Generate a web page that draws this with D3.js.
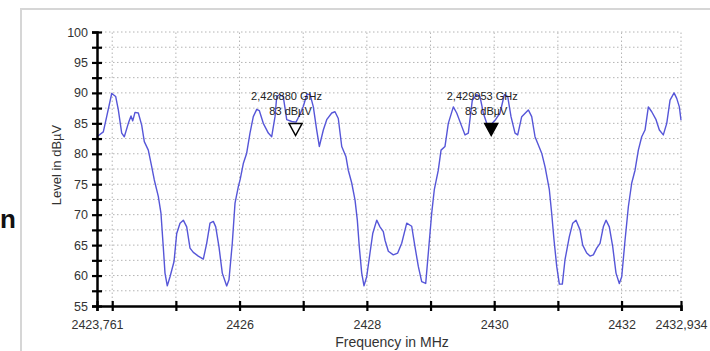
<!DOCTYPE html>
<html>
<head>
<meta charset="utf-8">
<script src="https://cdn.jsdelivr.net/npm/d3@7"></script>
<style>
  body { margin: 0; background: #fff; }
  text { font-family: "Liberation Sans", Arial, sans-serif; }
</style>
</head>
<body>
<div id="chart"></div>
<script>
// spectrum trace (MHz, dBµV)
let freq = [
  2423.761, 2423.860, 2423.913, 2423.992, 2424.055, 2424.096, 2424.149, 2424.190, 2424.253, 2424.295,
  2424.322, 2424.358, 2424.410, 2424.463, 2424.504, 2424.567, 2424.620, 2424.661, 2424.724, 2424.766,
  2424.802, 2424.829, 2424.865, 2424.908, 2424.971, 2425.013, 2425.065, 2425.117, 2425.170, 2425.222,
  2425.274, 2425.352, 2425.431, 2425.484, 2425.536, 2425.588, 2425.626, 2425.677, 2425.729, 2425.798,
  2425.834, 2425.886, 2425.929, 2425.981, 2426.010, 2426.059, 2426.112, 2426.164, 2426.216, 2426.270,
  2426.310, 2426.373, 2426.452, 2426.505, 2426.557, 2426.584, 2426.625, 2426.687, 2426.741, 2426.819,
  2426.887, 2426.950, 2427.002, 2427.055, 2427.107, 2427.159, 2427.212, 2427.253, 2427.316, 2427.369,
  2427.448, 2427.499, 2427.551, 2427.605, 2427.672, 2427.708, 2427.762, 2427.814, 2427.850, 2427.881,
  2427.919, 2427.955, 2427.997, 2428.049, 2428.092, 2428.155, 2428.206, 2428.258, 2428.285, 2428.337,
  2428.415, 2428.484, 2428.547, 2428.626, 2428.704, 2428.756, 2428.808, 2428.861, 2428.924, 2428.965,
  2429.018, 2429.059, 2429.122, 2429.165, 2429.227, 2429.279, 2429.358, 2429.411, 2429.490, 2429.542,
  2429.593, 2429.656, 2429.725, 2429.777, 2429.829, 2429.882, 2429.950, 2430.013, 2430.091, 2430.159,
  2430.212, 2430.264, 2430.327, 2430.369, 2430.432, 2430.536, 2430.589, 2430.641, 2430.746, 2430.798,
  2430.866, 2430.903, 2430.940, 2430.982, 2431.023, 2431.070, 2431.112, 2431.180, 2431.233, 2431.285,
  2431.348, 2431.390, 2431.453, 2431.505, 2431.557, 2431.610, 2431.662, 2431.714, 2431.756, 2431.808,
  2431.862, 2431.913, 2431.965, 2432.003, 2432.055, 2432.107, 2432.160, 2432.212, 2432.264, 2432.317,
  2432.369, 2432.421, 2432.474, 2432.542, 2432.594, 2432.656, 2432.710, 2432.762, 2432.825, 2432.867,
  2432.908, 2432.934
];
let level = [
  82.8, 83.6, 86.1, 89.9, 89.4, 87.2, 83.4, 82.8, 85.0, 86.2,
  85.4, 86.8, 86.7, 84.7, 82.0, 80.6, 77.9, 75.7, 73.0, 70.2,
  64.7, 60.4, 58.3, 59.8, 62.3, 66.9, 68.6, 69.1, 68.0, 64.5,
  63.8, 63.2, 62.7, 65.3, 68.6, 68.9, 68.0, 64.7, 60.4, 58.3,
  59.3, 65.3, 71.9, 74.6, 75.8, 78.4, 80.1, 83.4, 86.1, 87.3,
  87.1, 85.0, 83.4, 82.8, 86.1, 89.4, 89.7, 89.4, 85.6, 85.3,
  85.2, 86.5, 87.8, 89.7, 89.8, 87.7, 83.9, 81.2, 83.9, 85.6,
  86.7, 86.9, 85.8, 81.2, 79.5, 77.3, 75.2, 72.4, 69.1, 64.7,
  60.4, 58.3, 59.8, 63.7, 66.9, 69.1, 68.0, 67.2, 65.8, 64.0,
  63.4, 63.7, 65.3, 68.6, 68.1, 64.7, 61.5, 59.0, 58.7, 63.7,
  70.2, 74.1, 77.3, 80.6, 81.2, 85.0, 87.7, 86.7, 84.5, 83.1,
  83.4, 88.8, 89.7, 89.4, 86.7, 85.0, 84.8, 85.5, 86.7, 89.7,
  89.4, 86.1, 83.4, 83.1, 86.1, 87.2, 86.1, 82.8, 80.1, 77.9,
  74.1, 70.2, 65.8, 61.5, 58.6, 58.6, 62.6, 66.4, 68.6, 69.1,
  67.5, 65.0, 63.7, 63.2, 63.4, 64.5, 65.3, 68.0, 69.1, 68.0,
  64.7, 60.4, 58.7, 59.8, 65.8, 71.3, 75.2, 77.3, 80.6, 82.8,
  83.9, 87.7, 86.9, 85.6, 83.9, 83.1, 85.0, 88.8, 90.0, 89.1,
  87.7, 85.5
];

// markers
let markerFreq = [2426.880, 2429.953];
let markerLevel = [83, 83];
let markerLabel = ["2,426880 GHz", "2,429953 GHz"];
let markerUnit = ["83 dBµV", "83 dBµV"];
let markerFilled = [false, true];

// ticks
let xMin = 2423.761, xMax = 2432.934;
let xTicks = [2423.761, 2424, 2425, 2426, 2427, 2428, 2429, 2430, 2431, 2432, 2432.934];
let xTickLabels = ["2423,761", "", "", "2426", "", "2428", "", "2430", "", "2432", "2432,934"];
let xGrid = [2424, 2425, 2426, 2427, 2428, 2429, 2430, 2431, 2432, 2432.934];
let yTicks = [55, 60, 65, 70, 75, 80, 85, 90, 95, 100];
let yMinor = [57.5, 62.5, 67.5, 72.5, 77.5, 82.5, 87.5, 92.5, 97.5];

let svgWidth = 710;
let svgHeight = 351;

let svg = d3
  .select("#chart")
  .append("svg")
  .attr("width", svgWidth)
  .attr("height", svgHeight);

// outer frame of the screenshot
svg.append("rect")
  .attr("x", 21).attr("y", 9)
  .attr("width", 720).attr("height", 360)
  .attr("fill", "none")
  .attr("stroke", "#d6d6d6")
  .attr("stroke-width", 2);

// heading letter on the left
svg.append("text")
  .attr("x", 0).attr("y", 228)
  .attr("font-size", 26)
  .attr("font-weight", "bold")
  .attr("fill", "#111")
  .text("n");

let x = d3.scaleLinear().domain([xMin, xMax]).range([97, 681]);
let y = d3.scaleLinear().domain([55, 100]).range([306, 32]);

// grid
let grid = svg.append("g").attr("stroke", "#b4b4b4").attr("stroke-dasharray", "1.5,2.5");
grid.selectAll("line.v")
  .data(xGrid)
  .enter()
  .append("line")
  .attr("x1", d => x(d)).attr("x2", d => x(d))
  .attr("y1", y(55)).attr("y2", y(100));
grid.selectAll("line.h")
  .data(yTicks.concat(yMinor).filter(d => d > 55))
  .enter()
  .append("line")
  .attr("x1", x(xMin)).attr("x2", x(xMax))
  .attr("y1", d => y(d)).attr("y2", d => y(d));

// trace
let line = d3.line()
  .x((d, i) => x(freq[i]))
  .y(d => y(d));

svg.append("path")
  .datum(level)
  .attr("fill", "none")
  .attr("stroke", "#5656d8")
  .attr("stroke-width", 1.4)
  .attr("stroke-linejoin", "round")
  .attr("d", line);

// axes
let bottomAxis = d3.axisBottom(x)
  .tickValues(xTicks)
  .tickFormat((d, i) => xTickLabels[i])
  .tickSizeOuter(0)
  .tickSize(5)
  .tickPadding(9);

let xAxis = svg.append("g")
  .attr("transform", `translate(0, ${y(55)})`)
  .call(bottomAxis);

let leftAxis = d3.axisLeft(y)
  .tickValues(yTicks.concat(yMinor))
  .tickFormat(d => (d % 5 === 0 ? d : ""))
  .tickSizeOuter(0)
  .tickSize(5)
  .tickPadding(4);

let yAxis = svg.append("g")
  .attr("transform", `translate(${x(xMin)}, 0)`)
  .call(leftAxis);

xAxis.select(".domain").attr("stroke", "#000").attr("stroke-width", 2.5);
yAxis.select(".domain").attr("stroke", "#000").attr("stroke-width", 2.5);
xAxis.selectAll(".tick line").attr("y1", -5).attr("y2", 5).attr("stroke-width", 2.2);
yAxis.selectAll(".tick line").attr("x1", -5).attr("x2", 5).attr("stroke-width", 2.2);
xAxis.selectAll(".tick text").attr("font-size", 12.5).attr("fill", "#333")
  .attr("font-family", "'Liberation Sans', Arial, sans-serif");
yAxis.selectAll(".tick text").attr("font-size", 12.5).attr("fill", "#333")
  .attr("font-family", "'Liberation Sans', Arial, sans-serif");

// axis titles
svg.append("text")
  .attr("transform", "translate(61, 165) rotate(-90)")
  .attr("text-anchor", "middle")
  .attr("font-size", 13)
  .attr("fill", "#333")
  .text("Level in dBµV");

svg.append("text")
  .attr("x", 392).attr("y", 347)
  .attr("text-anchor", "middle")
  .attr("font-size", 14)
  .attr("fill", "#333")
  .text("Frequency in MHz");

// markers
markerFreq.forEach(function(f, i) {
  let mx = x(f);
  let my = y(markerLevel[i]);
  svg.append("path")
    .attr("d", `M${mx - 6.5},${my - 12} L${mx + 6.5},${my - 12} L${mx},${my} Z`)
    .attr("fill", markerFilled[i] ? "#000" : "#fff")
    .attr("stroke", "#000")
    .attr("stroke-width", 1.5);
  svg.append("text")
    .attr("x", mx - 9).attr("y", 100)
    .attr("text-anchor", "middle")
    .attr("font-size", 11)
    .attr("fill", "#222")
    .text(markerLabel[i]);
  svg.append("text")
    .attr("x", mx - 5).attr("y", 115)
    .attr("text-anchor", "middle")
    .attr("font-size", 11)
    .attr("fill", "#222")
    .text(markerUnit[i]);
});
</script>
</body>
</html>
